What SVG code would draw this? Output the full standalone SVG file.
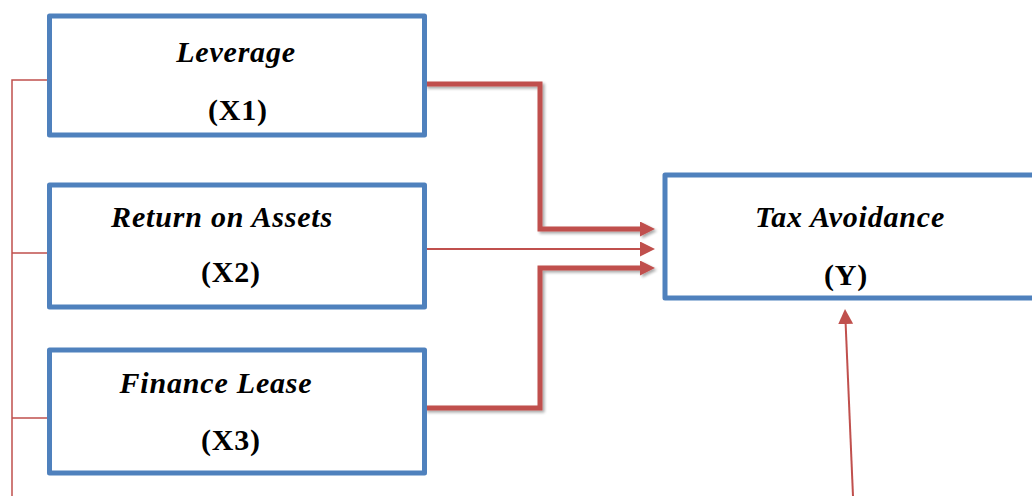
<svg xmlns="http://www.w3.org/2000/svg" width="1032" height="496" viewBox="0 0 1032 496">
<style>
.box{fill:#ffffff;stroke:#4f81bd;stroke-width:5;stroke-linejoin:round}
.t{font-family:"Liberation Serif","Times New Roman",serif;font-weight:bold;font-size:30px;letter-spacing:0.8px;fill:#000;text-anchor:middle}
.i{font-style:italic}
.thick{fill:none;stroke:#c0504d;stroke-width:5;stroke-linejoin:miter}
.thin{fill:none;stroke:#c0504d;stroke-width:2}
.hair{fill:none;stroke:#c0504d;stroke-width:1.5}
</style>
<defs>
<filter id="sh" x="-10%" y="-10%" width="130%" height="130%">
<feGaussianBlur in="SourceAlpha" stdDeviation="1.5"/>
<feOffset dx="2" dy="2" result="b"/>
<feComponentTransfer><feFuncA type="linear" slope="0.35"/></feComponentTransfer>
<feMerge><feMergeNode/><feMergeNode in="SourceGraphic"/></feMerge>
</filter>
<marker id="ah" markerUnits="userSpaceOnUse" markerWidth="16" markerHeight="16" refX="1" refY="7.5" orient="auto">
<path d="M0,0 L15,7.5 L0,15 z" fill="#c0504d"/>
</marker>
</defs>
<g id="connectors">
<path class="hair" d="M49,80 H12 V496 M12,253 H49 M12,418 H49"/>
<g filter="url(#sh)">
<path class="thick" d="M425,84 H540 V229 H641" marker-end="url(#ah)"/>
<path class="thick" d="M425,408 H540 V268 H641" marker-end="url(#ah)"/>
</g>
<path class="thin" d="M425,249 H641" marker-end="url(#ah)"/>
<path class="thin" d="M853,496 L845.6,323" marker-end="url(#ah)"/>
</g>
<g id="x1">
<rect class="box" x="49.5" y="16" width="375" height="119"/>
<text class="t i" x="236" y="62">Leverage</text>
<text class="t" x="238" y="120">(X1)</text>
</g>
<g id="x2">
<rect class="box" x="49.5" y="185" width="375" height="122"/>
<text class="t i" x="222" y="227">Return on Assets</text>
<text class="t" x="231" y="282">(X2)</text>
</g>
<g id="x3">
<rect class="box" x="49.5" y="350" width="375" height="123"/>
<text class="t i" x="216" y="393">Finance Lease</text>
<text class="t" x="231" y="450">(X3)</text>
</g>
<g id="y">
<rect class="box" x="665" y="175" width="380" height="123"/>
<text class="t i" x="850" y="227">Tax Avoidance</text>
<text class="t" x="846" y="285">(Y)</text>
</g>
</svg>
